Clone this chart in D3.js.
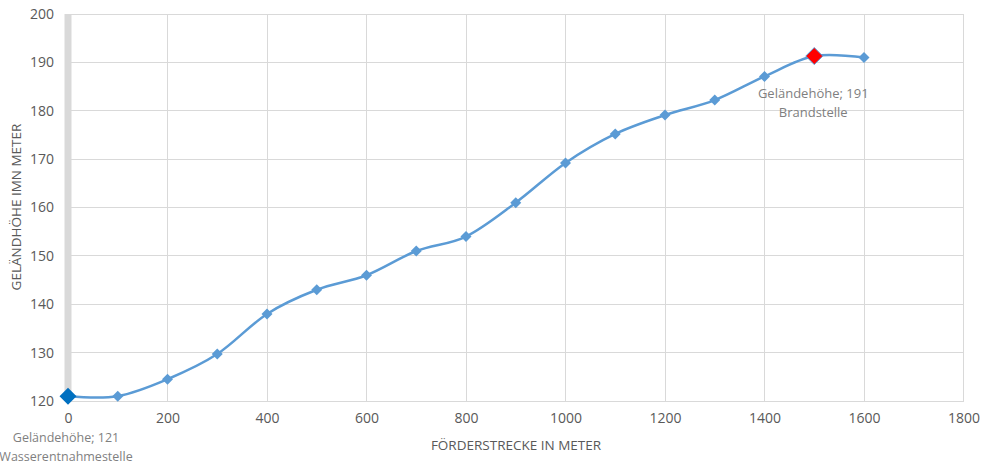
<!DOCTYPE html>
<html><head><meta charset="utf-8">
<script src="https://cdn.jsdelivr.net/npm/d3@7"></script>
<style>body{margin:0;background:#fff}svg{display:block}</style>
</head><body>
<svg id="c" width="984" height="468"></svg>
<script>
const distances = [0,100,200,300,400,500,600,700,800,900,1000,1100,1200,1300,1400,1500,1600];
const heights   = [121,121,124.5,129.7,138,143,146,151,154,161,169.2,175.2,179.1,182.2,187.1,191.3,191];
const xTicks = [0,200,400,600,800,1000,1200,1400,1600,1800];
const yTicks = [120,130,140,150,160,170,180,190,200];
const xTitle = "FÖRDERSTRECKE IN METER";
const yTitle = "GELÄNDHÖHE IMN METER";
const startLabel = ["Geländehöhe; 121","Wasserentnahmestelle"];
const endLabel = ["Geländehöhe; 191","Brandstelle"];

const svg = d3.select("#c");
const font = "'Open Sans', 'Noto Sans', sans-serif";
const x = d3.scaleLinear().domain([0,1800]).range([68,963.5]);
const y = d3.scaleLinear().domain([120,200]).range([401,14]);

// gridlines
svg.append("g").selectAll("line").data(yTicks).join("line")
  .attr("x1",x(0)).attr("x2",x(1800)).attr("y1",d=>y(d)).attr("y2",d=>y(d))
  .attr("stroke","#d9d9d9").attr("stroke-width",1).attr("shape-rendering","crispEdges");
svg.append("g").selectAll("line").data(xTicks.slice(1)).join("line")
  .attr("x1",d=>x(d)).attr("x2",d=>x(d)).attr("y1",y(200)).attr("y2",y(120))
  .attr("stroke","#d9d9d9").attr("stroke-width",1).attr("shape-rendering","crispEdges");
// thick y axis bar
svg.append("line").attr("x1",x(0)).attr("x2",x(0)).attr("y1",y(200)).attr("y2",y(120))
  .attr("stroke","#d9d9d9").attr("stroke-width",7);

// axes tick labels
const xAxis = d3.axisBottom(x).tickValues(xTicks).tickFormat(d3.format("d")).tickSize(0).tickPadding(12);
const gx = svg.append("g").attr("transform",`translate(0,${y(120)})`).call(xAxis);
gx.select(".domain").remove();
gx.selectAll("text").attr("fill","#595959").style("font-family",font).style("font-size","14px");
const yAxis = d3.axisLeft(y).tickValues(yTicks).tickFormat(d3.format("d")).tickSize(0).tickPadding(14);
const gy = svg.append("g").attr("transform",`translate(${x(0)},0)`).call(yAxis);
gy.select(".domain").remove();
gy.selectAll("text").attr("fill","#595959").style("font-family",font).style("font-size","14px");

// titles
svg.append("text").text(xTitle).attr("x",516).attr("y",450).attr("text-anchor","middle")
  .attr("fill","#595959").style("font-family",font).style("font-size","13.5px");
svg.append("text").text(yTitle).attr("transform","translate(21,207) rotate(-90)").attr("text-anchor","middle")
  .attr("fill","#595959").style("font-family",font).style("font-size","13.5px");

// line
const data = distances.map((d,i)=>({d,h:heights[i]}));
const line = d3.line().x(p=>x(p.d)).y(p=>y(p.h)).curve(d3.curveCatmullRom.alpha(0));
svg.append("path").datum(data).attr("d",line).attr("fill","none")
  .attr("stroke","#5b9bd5").attr("stroke-width",2.5);

// markers
svg.append("g").selectAll("path").data(data).join("path")
  .attr("transform",p=>`translate(${x(p.d)},${y(p.h)})`)
  .attr("d",(p,i)=>{
    const r = (i===0||i===15)?8.5:5.5;
    return `M0,${-r}L${r},0L0,${r}L${-r},0Z`;
  })
  .attr("fill",(p,i)=>i===0?"#0070c0":(i===15?"#ff0000":"#5b9bd5"))
  .attr("stroke",(p,i)=>i===15?"#5b9bd5":"none").attr("stroke-width",1);

// data labels
const lab = (lines,cx,cy,fs)=>{
  svg.append("g").selectAll("text").data(lines).join("text")
    .text(t=>t).attr("x",cx).attr("y",(t,i)=>cy+i*19).attr("text-anchor","middle")
    .attr("fill","#7f7f7f").style("font-family",font).style("font-size",fs);
};
lab(startLabel, x(0)-2, 442, "12.5px");
lab(endLabel, x(1500)-1, 98, "13px");
</script>
</body></html>
